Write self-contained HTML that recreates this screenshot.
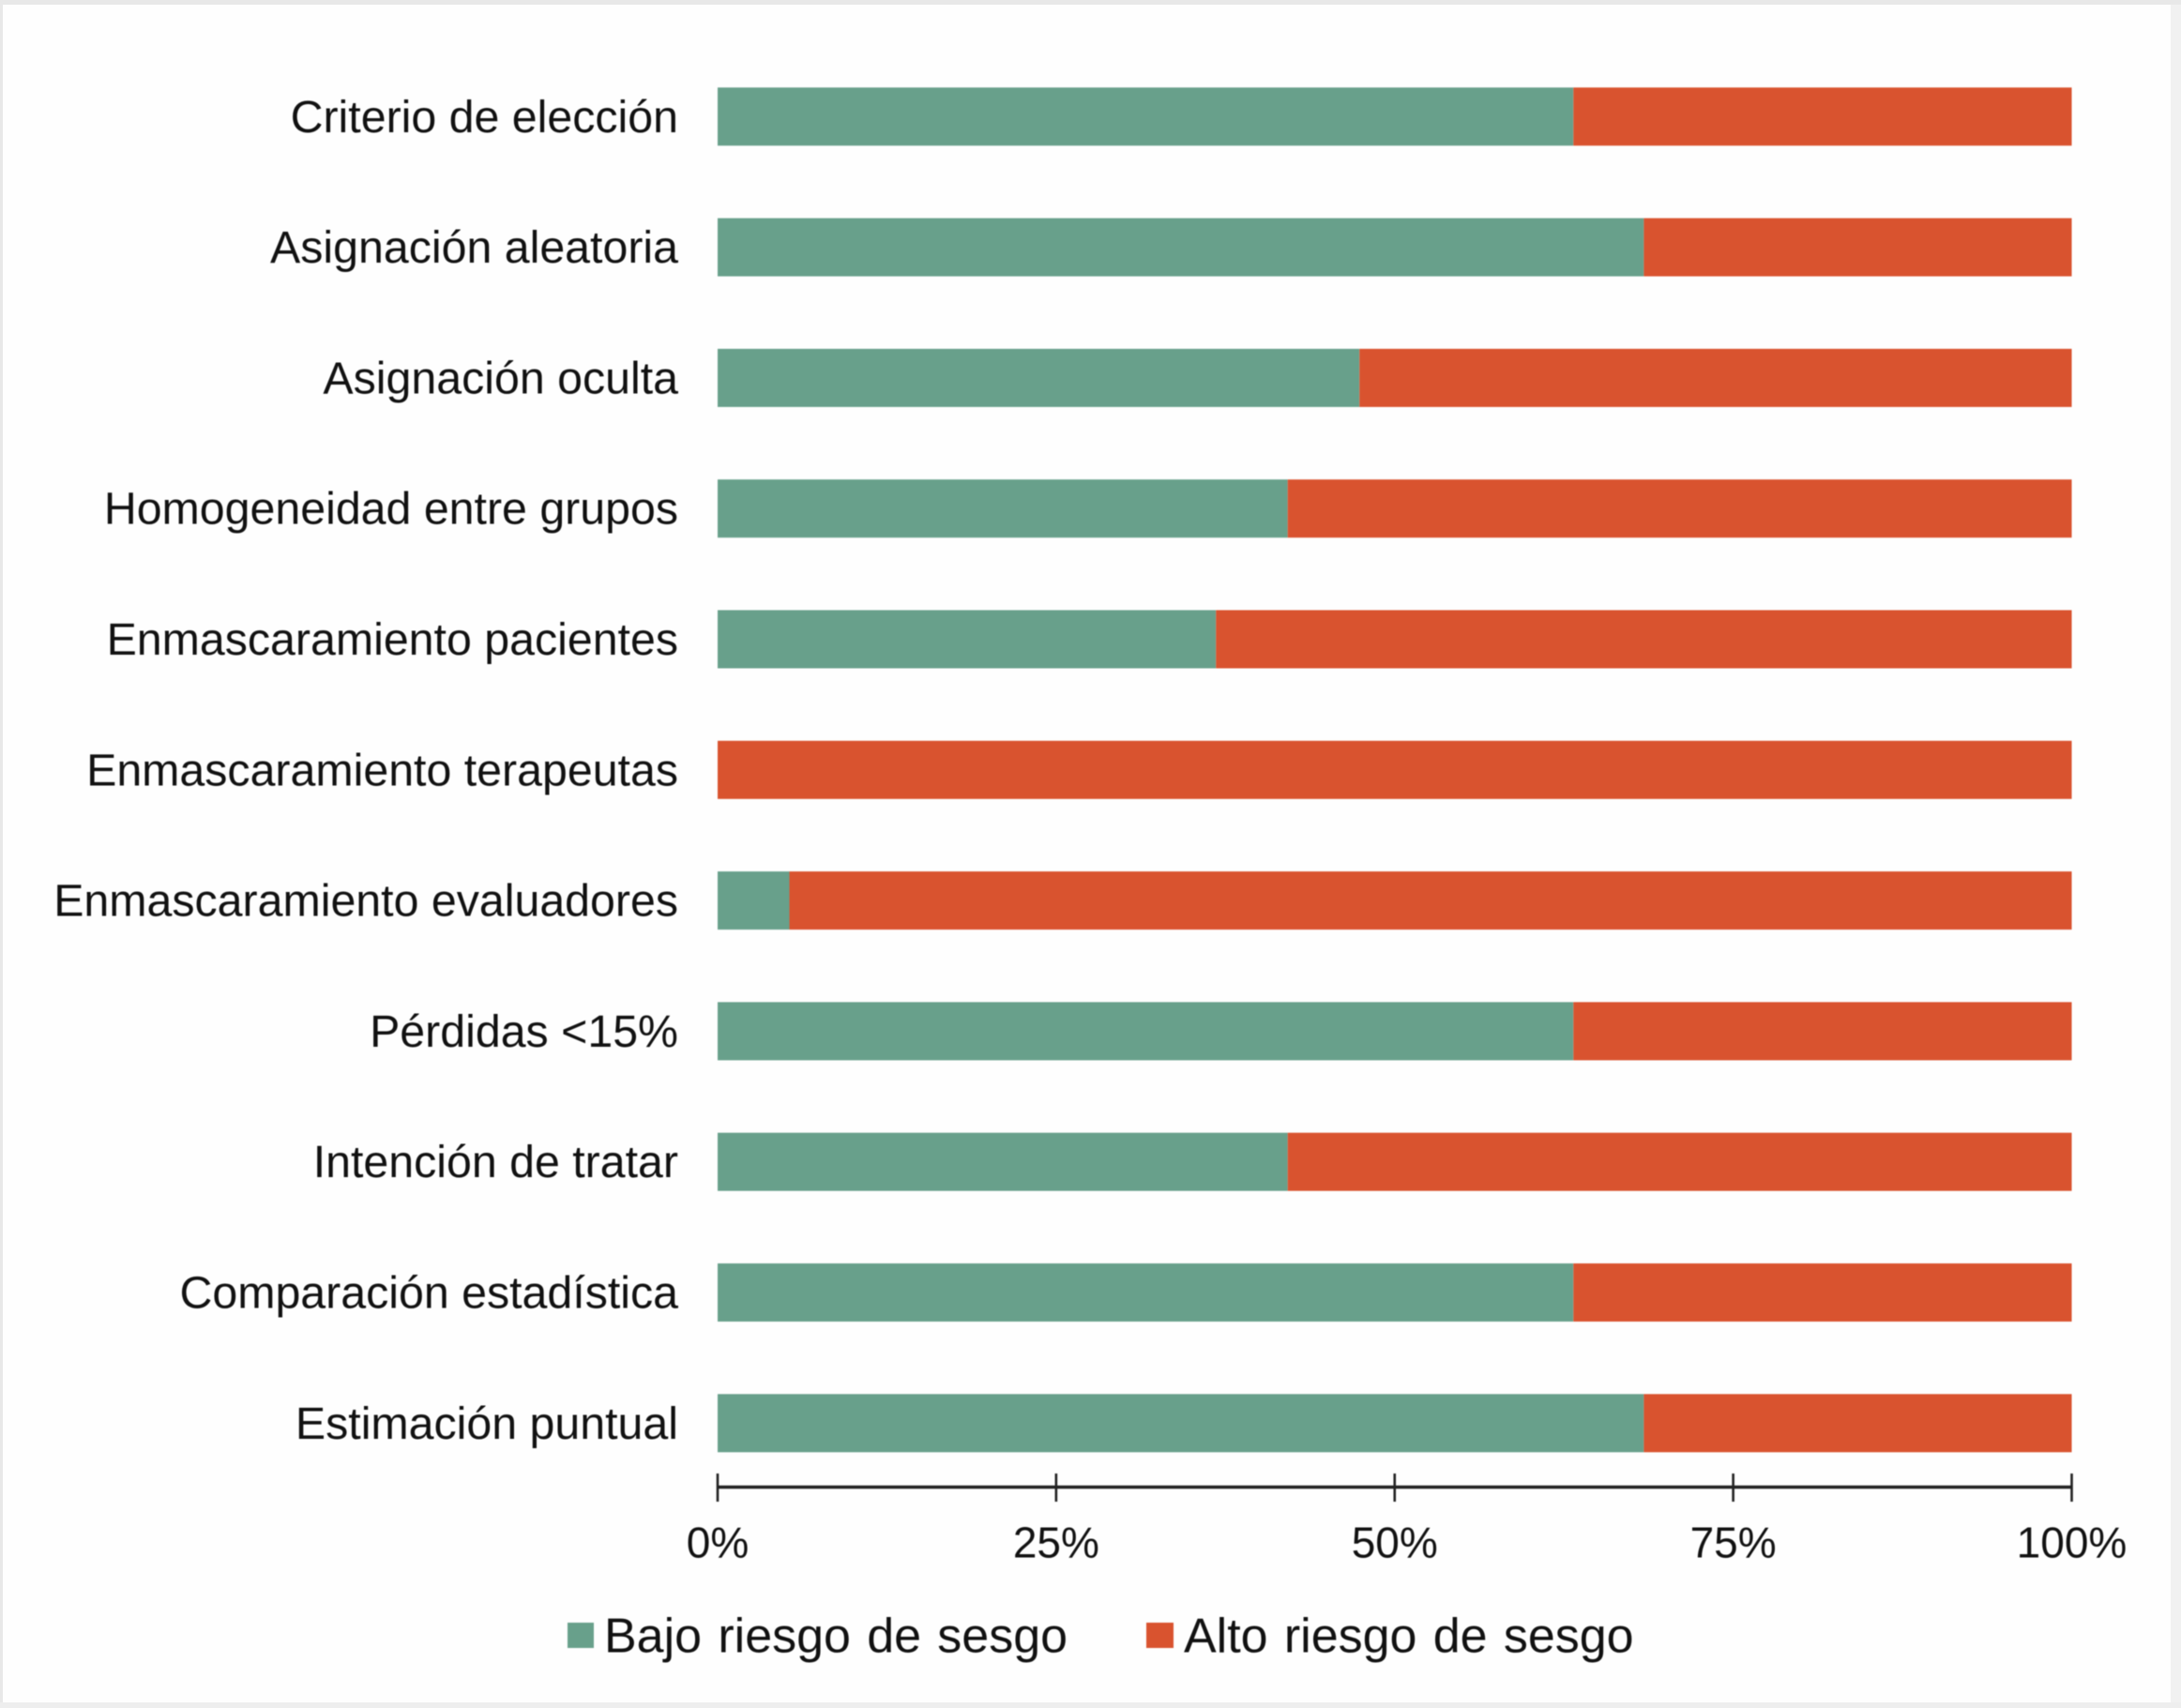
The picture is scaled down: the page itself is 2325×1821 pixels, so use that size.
<!DOCTYPE html>
<html lang="es">
<head>
<meta charset="utf-8">
<title>Riesgo de sesgo</title>
<style>
  html, body { margin: 0; padding: 0; background: #e8e8e8; }
  body { width: 2325px; height: 1821px; overflow: hidden; position: relative; }
  #panel { position: absolute; left: 3px; top: 5px; width: 2311px; height: 1810px; background: #fefefe; }
  #edge-right { position: absolute; left: 2314px; top: 5px; width: 11px; height: 1816px; background: #f1f1f1; }
  #edge-bottom { position: absolute; left: 0; top: 1815px; width: 2325px; height: 6px; background: #eeeeee; }
  #chart { position: absolute; left: 0; top: 0; filter: blur(0.6px); }
  text { font-family: "Liberation Sans", Arial, sans-serif; fill: #111111; }
</style>
</head>
<body>
<div id="panel"></div>
<div id="edge-right"></div>
<div id="edge-bottom"></div>
<svg id="chart" width="2325" height="1821" viewBox="0 0 2325 1821" xmlns="http://www.w3.org/2000/svg">
  <g id="bars"></g>
  <g id="y-labels"></g>
  <g id="x-axis"></g>
  <g id="legend">
    <g>
      <rect x="605" y="1730" width="28" height="27" fill="#68a08b"></rect>
      <text x="644" y="1761.5" font-size="52" word-spacing="2.8">Bajo riesgo de sesgo</text>
    </g>
    <g>
      <rect x="1222" y="1730" width="29" height="27" fill="#d9532f"></rect>
      <text x="1262" y="1761.5" font-size="52" word-spacing="2.8">Alto riesgo de sesgo</text>
    </g>
  </g>
</svg>
<script>
const categories = ["Criterio de elección", "Asignación aleatoria", "Asignación oculta", "Homogeneidad entre grupos", "Enmascaramiento pacientes", "Enmascaramiento terapeutas", "Enmascaramiento evaluadores", "Pérdidas <15%", "Intención de tratar", "Comparación estadística", "Estimación puntual"];
const bajoRiesgo = [63.2, 68.4, 47.4, 42.1, 36.8, 0, 5.3, 63.2, 42.1, 63.2, 68.4];
const altoRiesgo = [36.8, 31.6, 52.6, 57.9, 63.2, 100, 94.7, 36.8, 57.9, 36.8, 31.6];
const tickValues = [0, 25, 50, 75, 100];
const tickLabels = ["0%", "25%", "50%", "75%", "100%"];

const NS = "http://www.w3.org/2000/svg";
const plotLeft = 765, plotRight = 2208.5;
const bandTop = 93.3, bandStep = 139.3, barHeight = 62;
function xScale(v) { return plotLeft + (plotRight - plotLeft) * v / 100; }
function yScale(i) { return bandTop + bandStep * i; }
function make(tag, attrs) {
  const el = document.createElementNS(NS, tag);
  for (const k in attrs) el.setAttribute(k, attrs[k]);
  return el;
}

const barsGroup = document.getElementById("bars");
const labelsGroup = document.getElementById("y-labels");
categories.forEach(function (cat, i) {
  const y = yScale(i);
  if (bajoRiesgo[i] > 0) {
    const g = make("rect", { x: xScale(0), y: y, width: xScale(bajoRiesgo[i]) - xScale(0), height: barHeight, fill: "#68a08b" });
    
    
    barsGroup.appendChild(g);
  }
  const r = make("rect", { x: xScale(bajoRiesgo[i]), y: y, width: xScale(bajoRiesgo[i] + altoRiesgo[i]) - xScale(bajoRiesgo[i]), height: barHeight, fill: "#d9532f" });
  
  
  barsGroup.appendChild(r);
  const t = make("text", { x: 723, y: y + barHeight / 2 + 16.5, "text-anchor": "end", "font-size": 48.3 });
  
  
  t.textContent = cat;
  labelsGroup.appendChild(t);
});

const axisGroup = document.getElementById("x-axis");
const axisY = 1585.5;
const axisLine = make("line", { x1: xScale(0), x2: xScale(100), y1: axisY, y2: axisY, stroke: "#222222", "stroke-width": 3.4 });


axisGroup.appendChild(axisLine);
tickValues.forEach(function (v, i) {
  const tick = make("line", { x1: xScale(v), x2: xScale(v), y1: 1571, y2: 1601, stroke: "#222222", "stroke-width": 2.6 });
  
  
  axisGroup.appendChild(tick);
  const lab = make("text", { x: xScale(v), y: 1660.5, "text-anchor": "middle", "font-size": 46 });
  
  
  lab.textContent = tickLabels[i];
  axisGroup.appendChild(lab);
});
</script>
</body>
</html>
